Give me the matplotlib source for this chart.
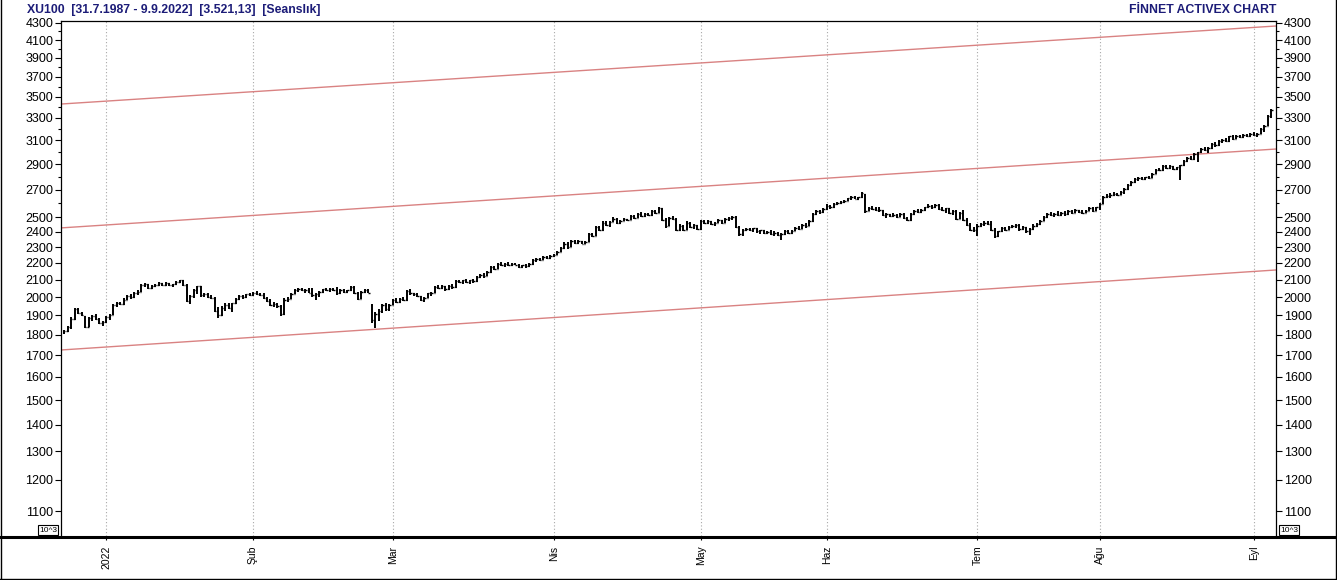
import numpy as np
import matplotlib
matplotlib.use("Agg")
import matplotlib.pyplot as plt
from matplotlib.lines import Line2D
from matplotlib.ticker import FixedLocator, FixedFormatter, NullFormatter

plt.rcParams['font.family'] = ['Liberation Sans', 'DejaVu Sans']

# XU100 session bars (2 sessions a day), end of Dec 2021 .. early Sep 2022
opens = [
    # Dec / Jan
    1812, 1820, 1838, 1882, 1935, 1912, 1895, 1840, 1885, 1895,
    1882, 1860, 1865, 1890, 1902, 1955, 1965, 1960, 1985, 2005,
    1998, 2025, 2030, 2068, 2072, 2052, 2062, 2068, 2080, 2070,
    2078, 2066, 2072, 2086, 2095, 2070, 1978, 2005, 2040, 2060,
    2010, 2015, 2000, 1995, 1922, 1900, 1942, 1958, 1940, 1965,
    1990, 2005, 1998, 2015, 2010,
    # Feb
    2025, 2018, 2012, 1995, 1980, 1958, 1962, 1948, 1905, 1985,
    1990, 2018, 2040, 2045, 2038, 2042, 2025, 2010, 2018, 2030,
    2045, 2040, 2046, 2042, 2020, 2040, 2028, 2038, 2058, 2025,
    1990, 2030, 2040, 1955, 1875, 1910, 1925, 1955, 1935, 1958,
    1985, 1975, 1990, 1982, 2035, 2020, 2015, 2005, 1985, 1995,
    2020, 2025, 2058, 2052,
    # Mar / Apr
    2062, 2045, 2065, 2055, 2090, 2085, 2095, 2088, 2096, 2090,
    2118, 2128, 2122, 2145, 2175, 2162, 2195, 2188, 2196, 2190,
    2195, 2188, 2178, 2185, 2180, 2195, 2218, 2225, 2220, 2235,
    2230, 2242, 2250, 2268, 2295, 2322, 2300, 2338, 2325, 2340,
    2322, 2335, 2385, 2372, 2432, 2410, 2462, 2448, 2468, 2490,
    2462, 2475, 2485, 2480, 2508, 2495, 2525,
    # Apr / May / Jun
    2510, 2520, 2512, 2545, 2530, 2562, 2478, 2440, 2492, 2488,
    2415, 2442, 2412, 2462, 2432, 2445, 2418, 2475, 2462, 2470,
    2450, 2462, 2480, 2460, 2488, 2495, 2502, 2432, 2385, 2410,
    2420, 2412, 2422, 2402, 2410, 2392, 2400, 2388, 2395, 2378,
    2385, 2405, 2392, 2408, 2428, 2420, 2448, 2440, 2472, 2520,
    2542, 2535, 2558, 2582, 2570, 2595,
    # Jun / Jul
    2600, 2605, 2618, 2635, 2645, 2632, 2642, 2665, 2545, 2568,
    2560, 2552, 2548, 2512, 2520, 2505, 2515, 2502, 2520, 2495,
    2478, 2520, 2545, 2538, 2550, 2570, 2582, 2575, 2585, 2560,
    2548, 2562, 2530, 2545, 2490, 2528, 2478, 2448, 2412, 2410,
    2440, 2455, 2462, 2450, 2412, 2372, 2402, 2428, 2415, 2432,
    2440, 2448, 2420, 2430, 2402, 2418,
    # Jul / Aug
    2440, 2455, 2472, 2498, 2520, 2512, 2525, 2515, 2532, 2520,
    2542, 2532, 2548, 2538, 2530, 2545, 2568, 2545, 2570, 2592,
    2642, 2655, 2662, 2670, 2660, 2682, 2705, 2732, 2758, 2782,
    2790, 2778, 2795, 2788, 2822, 2855, 2848, 2885, 2870, 2880,
    2862, 2872, 2888, 2928, 2948, 2940, 2982, 2995, 3022, 3015,
    3032, 3068, 3055, 3092, 3105, 3090,
    # Aug / Sep
    3132, 3110, 3140, 3125, 3145, 3132, 3158, 3142, 3152, 3198,
    3228, 3318,
]
highs = [
    1825, 1845, 1890, 1942, 1938, 1918, 1898, 1890, 1902, 1908,
    1885, 1872, 1895, 1908, 1962, 1972, 1972, 1992, 2010, 2015,
    2030, 2038, 2075, 2078, 2075, 2068, 2072, 2085, 2082, 2085,
    2082, 2075, 2090, 2100, 2096, 2072, 2010, 2045, 2065, 2062,
    2022, 2020, 2012, 1998, 1945, 1950, 1965, 1965, 1968, 1995,
    2010, 2012, 2018, 2022, 2030,
    2032, 2025, 2020, 2002, 1990, 1970, 1968, 1955, 1995, 1998,
    2022, 2045, 2052, 2050, 2048, 2050, 2052, 2025, 2035, 2048,
    2052, 2050, 2052, 2055, 2045, 2046, 2042, 2062, 2060, 2030,
    2035, 2045, 2048, 1962, 1920, 1932, 1962, 1965, 1962, 1990,
    1992, 1995, 2000, 2040, 2045, 2025, 2022, 2008, 2000, 2025,
    2030, 2062, 2068, 2070,
    2065, 2070, 2072, 2095, 2098, 2100, 2102, 2100, 2105, 2122,
    2135, 2138, 2150, 2182, 2180, 2200, 2205, 2200, 2205, 2200,
    2202, 2195, 2190, 2192, 2200, 2225, 2232, 2230, 2240, 2245,
    2248, 2258, 2272, 2302, 2330, 2335, 2345, 2348, 2345, 2342,
    2340, 2390, 2392, 2440, 2442, 2470, 2472, 2475, 2498, 2492,
    2480, 2492, 2490, 2515, 2518, 2532, 2535,
    2528, 2530, 2550, 2552, 2570, 2565, 2492, 2500, 2505, 2492,
    2450, 2448, 2470, 2468, 2450, 2448, 2482, 2480, 2478, 2475,
    2468, 2485, 2482, 2492, 2500, 2508, 2505, 2440, 2418, 2428,
    2425, 2428, 2425, 2415, 2412, 2408, 2410, 2402, 2400, 2392,
    2412, 2410, 2412, 2435, 2438, 2455, 2458, 2480, 2530, 2550,
    2548, 2565, 2590, 2588, 2600, 2610,
    2612, 2625, 2640, 2650, 2652, 2648, 2685, 2668, 2575, 2578,
    2575, 2570, 2552, 2528, 2525, 2530, 2522, 2528, 2530, 2500,
    2528, 2552, 2555, 2558, 2575, 2590, 2588, 2592, 2590, 2575,
    2568, 2565, 2552, 2550, 2535, 2552, 2495, 2460, 2435, 2450,
    2460, 2470, 2470, 2470, 2425, 2408, 2435, 2432, 2438, 2448,
    2455, 2450, 2438, 2435, 2425, 2450,
    2462, 2480, 2505, 2528, 2535, 2530, 2540, 2538, 2545, 2550,
    2552, 2555, 2552, 2550, 2552, 2575, 2572, 2575, 2600, 2650,
    2665, 2675, 2680, 2678, 2690, 2712, 2740, 2765, 2790, 2798,
    2800, 2800, 2802, 2830, 2862, 2865, 2895, 2892, 2888, 2885,
    2878, 2895, 2935, 2955, 2962, 2990, 3000, 3030, 3045, 3040,
    3075, 3085, 3100, 3112, 3115, 3140,
    3145, 3148, 3145, 3150, 3155, 3165, 3170, 3160, 3205, 3235,
    3330, 3378,
]
lows = [
    1805, 1812, 1830, 1878, 1905, 1895, 1832, 1838, 1870, 1878,
    1855, 1845, 1858, 1878, 1900, 1945, 1955, 1958, 1982, 1990,
    1995, 2012, 2028, 2055, 2045, 2045, 2055, 2062, 2060, 2065,
    2062, 2058, 2070, 2082, 2065, 1972, 1962, 1992, 2018, 2002,
    1998, 1995, 1988, 1918, 1888, 1895, 1925, 1935, 1920, 1960,
    1985, 1990, 1995, 2005, 2008,
    2010, 2005, 1990, 1975, 1950, 1945, 1940, 1895, 1900, 1970,
    1988, 2015, 2030, 2032, 2025, 2020, 2000, 1985, 2000, 2025,
    2035, 2030, 2035, 2012, 2015, 2022, 2020, 2035, 2018, 1982,
    1988, 2022, 2020, 1860, 1835, 1870, 1915, 1925, 1922, 1955,
    1968, 1965, 1978, 1980, 2012, 2005, 1998, 1978, 1975, 1992,
    2005, 2022, 2045, 2048,
    2035, 2042, 2048, 2052, 2078, 2075, 2080, 2076, 2082, 2088,
    2110, 2112, 2120, 2140, 2155, 2160, 2180, 2175, 2182, 2180,
    2185, 2172, 2170, 2172, 2176, 2190, 2205, 2210, 2215, 2222,
    2225, 2235, 2248, 2265, 2290, 2285, 2298, 2318, 2320, 2318,
    2318, 2332, 2365, 2370, 2405, 2408, 2440, 2432, 2465, 2455,
    2455, 2470, 2472, 2478, 2490, 2492, 2500,
    2502, 2505, 2510, 2520, 2528, 2470, 2425, 2438, 2480, 2405,
    2408, 2405, 2410, 2425, 2418, 2410, 2415, 2455, 2450, 2445,
    2440, 2458, 2455, 2458, 2475, 2482, 2425, 2372, 2370, 2402,
    2405, 2400, 2395, 2388, 2385, 2382, 2380, 2375, 2370, 2348,
    2380, 2385, 2388, 2402, 2410, 2418, 2425, 2438, 2468, 2515,
    2525, 2530, 2552, 2560, 2565, 2585,
    2590, 2598, 2612, 2625, 2628, 2625, 2638, 2530, 2540, 2550,
    2545, 2538, 2505, 2495, 2498, 2500, 2495, 2498, 2488, 2470,
    2475, 2518, 2530, 2532, 2545, 2565, 2555, 2568, 2552, 2540,
    2530, 2520, 2518, 2482, 2488, 2470, 2440, 2405, 2400, 2375,
    2435, 2440, 2445, 2405, 2360, 2365, 2398, 2405, 2410, 2425,
    2428, 2405, 2410, 2392, 2380, 2414,
    2435, 2448, 2470, 2495, 2505, 2500, 2508, 2505, 2510, 2518,
    2525, 2528, 2530, 2525, 2528, 2540, 2535, 2540, 2552, 2590,
    2638, 2640, 2650, 2652, 2658, 2670, 2700, 2725, 2752, 2765,
    2770, 2772, 2780, 2785, 2818, 2840, 2845, 2860, 2858, 2850,
    2848, 2770, 2880, 2920, 2930, 2935, 2920, 2990, 3005, 2992,
    3025, 3040, 3050, 3078, 3080, 3085,
    3100, 3108, 3118, 3120, 3125, 3128, 3135, 3130, 3150, 3175,
    3225, 3300,
]
closes = [
    1820, 1838, 1882, 1935, 1912, 1900, 1840, 1885, 1895, 1882,
    1860, 1865, 1890, 1902, 1955, 1965, 1960, 1985, 2005, 1998,
    2025, 2030, 2068, 2072, 2052, 2062, 2068, 2080, 2070, 2078,
    2066, 2072, 2086, 2095, 2070, 1978, 2005, 2040, 2060, 2010,
    2015, 2000, 1995, 1922, 1900, 1942, 1958, 1940, 1965, 1990,
    2005, 1998, 2015, 2010, 2025,
    2018, 2012, 1995, 1980, 1958, 1962, 1948, 1905, 1985, 1990,
    2018, 2040, 2045, 2038, 2042, 2025, 2010, 2018, 2030, 2045,
    2040, 2046, 2042, 2020, 2040, 2028, 2038, 2058, 2025, 1990,
    2030, 2040, 2025, 1875, 1910, 1925, 1955, 1935, 1958, 1985,
    1975, 1990, 1982, 2035, 2020, 2015, 2005, 1985, 1995, 2020,
    2025, 2058, 2052, 2062,
    2045, 2065, 2055, 2090, 2085, 2095, 2088, 2096, 2090, 2118,
    2128, 2122, 2145, 2175, 2162, 2195, 2188, 2196, 2190, 2195,
    2188, 2178, 2185, 2180, 2195, 2218, 2225, 2220, 2235, 2230,
    2242, 2250, 2268, 2295, 2322, 2300, 2338, 2325, 2340, 2322,
    2335, 2385, 2372, 2432, 2410, 2462, 2448, 2468, 2490, 2462,
    2475, 2485, 2480, 2508, 2495, 2525, 2510,
    2520, 2512, 2545, 2530, 2562, 2478, 2440, 2492, 2488, 2415,
    2442, 2412, 2462, 2432, 2445, 2418, 2475, 2462, 2470, 2450,
    2462, 2480, 2460, 2488, 2495, 2502, 2432, 2385, 2410, 2420,
    2412, 2422, 2402, 2410, 2392, 2400, 2388, 2395, 2378, 2385,
    2405, 2392, 2408, 2428, 2420, 2448, 2440, 2472, 2520, 2542,
    2535, 2558, 2582, 2570, 2595, 2600,
    2605, 2618, 2635, 2645, 2632, 2642, 2675, 2545, 2568, 2560,
    2552, 2548, 2512, 2520, 2505, 2515, 2502, 2520, 2495, 2478,
    2520, 2545, 2538, 2550, 2570, 2582, 2575, 2585, 2560, 2548,
    2562, 2530, 2545, 2490, 2528, 2478, 2448, 2412, 2410, 2440,
    2455, 2462, 2450, 2412, 2372, 2402, 2428, 2415, 2432, 2440,
    2448, 2420, 2430, 2402, 2418, 2440,
    2455, 2472, 2498, 2520, 2512, 2525, 2515, 2532, 2520, 2542,
    2532, 2548, 2538, 2530, 2545, 2568, 2545, 2570, 2592, 2642,
    2655, 2662, 2670, 2660, 2682, 2705, 2732, 2758, 2782, 2790,
    2778, 2795, 2788, 2822, 2855, 2848, 2885, 2870, 2880, 2862,
    2872, 2888, 2928, 2948, 2940, 2982, 2995, 3022, 3015, 3032,
    3068, 3055, 3092, 3105, 3090, 3132,
    3110, 3140, 3125, 3145, 3132, 3158, 3142, 3152, 3198, 3228,
    3318, 3370,
]

# month labels and the bar where each month starts
month_labels = ["2022", "Şub", "Mar", "Nis", "May", "Haz", "Tem", "Ağu", "Eyl"]
month_bars = [12, 54, 94, 140, 182, 218, 261, 296, 340]

y_ticks = [1100, 1200, 1300, 1400, 1500, 1600, 1700, 1800, 1900, 2000,
           2100, 2200, 2300, 2400, 2500, 2700, 2900, 3100, 3300, 3500,
           3700, 3900, 4100, 4300]
y_minor = [2600, 2800, 3000, 3200, 3400, 3600, 3800, 4000, 4200]

# trend channel (value at left and right edge of the chart)
channel_left = [3429, 2426, 1725]
channel_right = [4264, 3024, 2157]

W, H = 1337, 580
fig = plt.figure(figsize=(W / 100, H / 100), dpi=100)
fig.patch.set_facecolor("white")
ax = fig.add_axes([61 / W, 1 - 536 / H, (1276 - 61) / W, (536 - 21) / H])

x0, x1 = -0.86, 346.3
ax.set_xlim(x0, x1)
ax.set_yscale("log")
ax.set_ylim(1026, 4324)

# vertical dotted month lines
for b in month_bars:
    ax.axvline(b, color="#a8a8a8", lw=0.8, ls=(0, (1, 2)), zorder=0)

# channel
for vl, vr in zip(channel_left, channel_right):
    ax.plot([x0, x1], [vl, vr], color="#d98282", lw=1.0, zorder=1)

# OHLC bars
idx = np.arange(len(closes))
ax.vlines(idx, lows, highs, color="black", lw=1.4, zorder=3)
ax.hlines(opens, idx - 0.32, idx, color="black", lw=1.0, zorder=3)
ax.hlines(closes, idx, idx + 0.32, color="black", lw=1.0, zorder=3)

# y axis on both sides
ax.yaxis.set_major_locator(FixedLocator(y_ticks))
ax.yaxis.set_major_formatter(FixedFormatter([str(v) for v in y_ticks]))
ax.yaxis.set_minor_locator(FixedLocator(y_minor))
ax.yaxis.set_minor_formatter(NullFormatter())
ax.tick_params(axis="y", which="major", left=True, right=True,
               labelleft=True, labelright=True, length=4, width=0.8,
               labelsize=9, pad=1.5, colors="black")
ax.tick_params(axis="y", which="minor", left=True, right=True,
               length=2.5, width=0.8)

ax.set_xticks(month_bars)
ax.set_xticklabels(month_labels, rotation=90, fontsize=7.5, va="top")
ax.tick_params(axis="x", length=3, width=0.8, pad=4)

for s in ["left", "right", "top"]:
    ax.spines[s].set_linewidth(0.9)
ax.spines["bottom"].set_visible(False)

# thick base line across the whole window
yb = 1 - 537 / H
fig.add_artist(Line2D([0, 1], [yb, yb], transform=fig.transFigure,
                      color="black", lw=2.2))
# outer frame (left, right, bottom)
fig.add_artist(Line2D([1 / W, 1 / W], [0, 1], transform=fig.transFigure, color="black", lw=1))
fig.add_artist(Line2D([1 - 1.5 / W, 1 - 1.5 / W], [0, 1], transform=fig.transFigure, color="black", lw=1))
fig.add_artist(Line2D([0, 1], [1.5 / H, 1.5 / H], transform=fig.transFigure, color="black", lw=1))

# header texts
navy = "#1c1c78"
fig.text(27 / W, 1 - 10 / H, "XU100  [31.7.1987 - 9.9.2022]  [3.521,13]  [Seanslık]",
         color=navy, fontsize=8.8, fontweight="bold", va="center", ha="left")
fig.text(1276 / W, 1 - 10 / H, "FİNNET ACTIVEX CHART",
         color=navy, fontsize=8.8, fontweight="bold", va="center", ha="right")

# 10^3 scale boxes
box = dict(boxstyle="square,pad=0.15", fc="white", ec="black", lw=0.8)
fig.text(48 / W, 1 - 530 / H, "10^3", fontsize=6, ha="center", va="center", bbox=box)
fig.text(1289 / W, 1 - 530 / H, "10^3", fontsize=6, ha="center", va="center", bbox=box)

fig.savefig("out.png", dpi=100, facecolor="white")
